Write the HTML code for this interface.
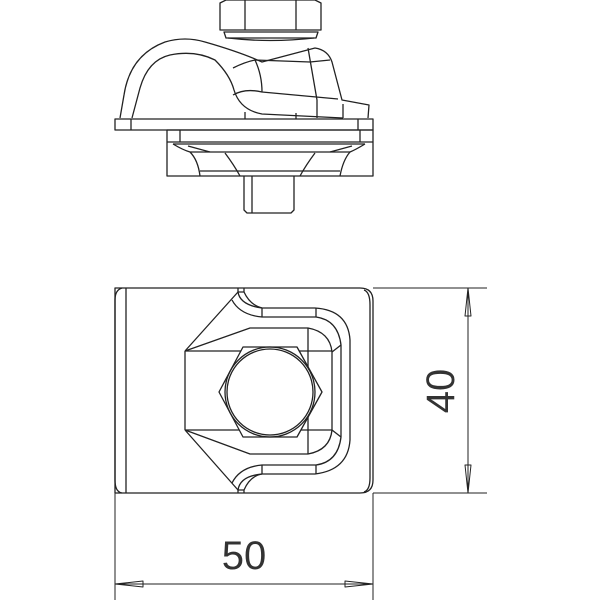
<!DOCTYPE html>
<html><head><style>html,body{margin:0;padding:0;background:#fff}svg{display:block}</style></head><body>
<svg width="600" height="600" viewBox="0 0 600 600" xmlns="http://www.w3.org/2000/svg" fill="none" stroke="#222" stroke-width="1.3" stroke-linejoin="round">
<!-- nut -->
<path d="M220,3 L226,0 L315,0 L321,3 L321,30 L220,30 Z" fill="#fff"/>
<line x1="245" y1="0" x2="245" y2="30"/><line x1="296" y1="0" x2="296" y2="30"/>
<path d="M224,32 L318,32 L316,38 L226,38 Z"/>
<path d="M228,38 Q270,43 314,38"/>
<!-- clamp body -->
<path d="M120,118 L124,95 Q130,55 165,42 Q185,36 205,42 Q240,52 262,62 L315,48 Q328,50 332,62 L342,100 L369,105 L368,118"/>
<path d="M132,118 L140,88 Q148,60 170,55 Q195,50 215,60 Q230,75 234,90 Q240,110 262,114 L343,118"/>
<path d="M233,95 Q245,88 262,92 L338,99"/>
<path d="M233,68 Q245,62 255,60 L310,62 L330,60"/>
<path d="M255,60 Q262,75 262,92"/>
<path d="M308,48 L317,100 L317,118"/>
<line x1="343" y1="104" x2="343" y2="118"/>
<line x1="245" y1="112" x2="245" y2="119"/><line x1="296" y1="113" x2="296" y2="119"/>
<!-- plate -->
<rect x="115" y="119" width="258" height="11" fill="#fff"/>
<line x1="131" y1="119" x2="131" y2="130"/><line x1="358" y1="119" x2="358" y2="130"/>
<!-- lower box -->
<rect x="167" y="130" width="206" height="46"/>
<line x1="180" y1="130" x2="180" y2="142"/><line x1="360" y1="130" x2="360" y2="142"/>
<line x1="167" y1="142" x2="373" y2="142"/>
<path d="M173,144 L365,144"/>
<path d="M173,144 Q183,150 190,152 Q198,160 200,176 M365,144 Q355,150 350,152 Q343,160 340,176"/>
<path d="M190,152 L350,152"/>
<path d="M225,153 Q234,165 240,176 M315,153 Q306,165 300,176"/>
<line x1="200" y1="171" x2="340" y2="171"/>
<path d="M188,146 L210,152 M352,146 L330,152"/>
<!-- bolt -->
<path d="M244,176 L244,210 L247,213 L291,213 L294,210 L294,176"/>
<line x1="252" y1="176" x2="252" y2="213"/>
<!-- BOTTOM VIEW -->
<path d="M115,288 L360,288 Q373,288 373,301 L373,480 Q373,493 360,493 L115,493 Z"/>
<path d="M122,288 Q115,290 115,300 L115,480 Q115,492 122,493"/>
<line x1="126" y1="288" x2="126" y2="493"/>
<path d="M364,290 Q370,292 370,305 L370,478 Q370,490 364,492"/>
<path d="M238,288 L238,292 Q240,305 262,308 L315,308 Q348,310 350,340 L350,440 Q348,470 315,474 L262,474 Q240,476 238,490 L238,493"/>
<path d="M244,288 L244,292 M238,292 L244,292 Q250,305 262,308"/>
<path d="M244,490 L244,493 M238,490 L244,490 Q250,476 262,474"/>
<line x1="262" y1="308" x2="262" y2="317"/><line x1="262" y1="465" x2="262" y2="474"/>
<line x1="316" y1="308" x2="316" y2="317"/><line x1="316" y1="465" x2="316" y2="474"/>
<path d="M232,300 Q240,315 262,317 L316,317 Q338,320 341,345 L341,437 Q338,462 316,465 L262,465 Q240,467 232,483"/>
<path d="M185,351 L238,292 M185,430 L238,490"/>
<path d="M185,351 L250,328 L308,328 Q330,332 332,352 L332,430 Q330,450 308,454 L250,454 L185,430"/>
<line x1="185" y1="351" x2="185" y2="430"/>
<line x1="185" y1="351" x2="332" y2="351"/><line x1="185" y1="430" x2="332" y2="430"/>
<line x1="308" y1="328" x2="308" y2="454"/>
<path d="M332,352 L341,345 M332,430 L341,437"/>
<path d="M219,392 L243,347 L297,347 L322,392 L297,437 L243,437 Z" fill="#fff"/>
<circle cx="270" cy="392" r="45"/>
<circle cx="270" cy="392" r="43"/>
<!-- DIMENSIONS -->
<g stroke-width="1">
<line x1="115" y1="493" x2="115" y2="600"/><line x1="373" y1="493" x2="373" y2="600"/>
<line x1="115" y1="584" x2="373" y2="584"/>
<path d="M115,584 L143,581 L143,587 Z M373,584 L345,581 L345,587 Z"/>
<line x1="373" y1="288" x2="487" y2="288"/><line x1="373" y1="493" x2="487" y2="493"/>
<line x1="468" y1="288" x2="468" y2="493"/>
<path d="M468,288 L465,316 L471,316 Z M468,493 L465,465 L471,465 Z"/>
</g>
<text x="244" y="569" font-family="Liberation Sans, sans-serif" font-size="40" fill="#333" stroke="none" text-anchor="middle">50</text>
<text x="0" y="0" transform="translate(454,391) rotate(-90)" font-family="Liberation Sans, sans-serif" font-size="40" fill="#333" stroke="none" text-anchor="middle">40</text>
</svg>
</body></html>
